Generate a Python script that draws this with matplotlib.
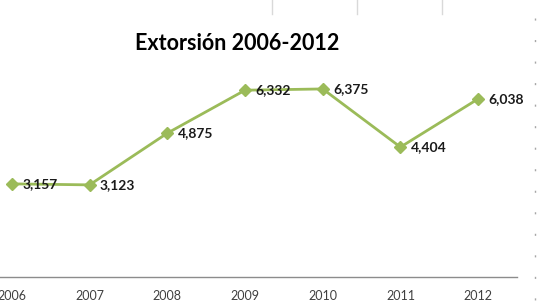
import matplotlib.pyplot as plt
from matplotlib.lines import Line2D

years = ["2006", "2007", "2008", "2009", "2010", "2011", "2012"]
cases = [3157, 3123, 4875, 6332, 6375, 4404, 6038]
labels = ["3,157", "3,123", "4,875", "6,332", "6,375", "4,404", "6,038"]

plt.rcParams['font.family'] = ['Lato', 'DejaVu Sans']

fig = plt.figure(figsize=(5.47, 3.03), dpi=100)
fig.patch.set_facecolor("white")

# plot area runs past the left edge (screenshot is cropped)
ax = fig.add_axes([-27 / 547, 26 / 303, 544 / 547, 236 / 303])
ax.set_facecolor("none")

x = list(range(len(years)))
ax.plot(x, cases, color="#9BBB59", linewidth=2.0, marker="D", markersize=6.5,
        markerfacecolor="#9BBB59", markeredgecolor="#9BBB59", zorder=3)

for xi, yi, lab in zip(x, cases, labels):
    ax.annotate(lab, (xi, yi), xytext=(7.5, 0), textcoords="offset points",
                ha="left", va="center", fontsize=10, fontweight="bold",
                color="#1a1a1a", zorder=4)

ax.set_xlim(-0.5, 6.5)
ax.set_ylim(0, 8000)
ax.set_xticks(x)
ax.set_xticklabels(years, fontsize=9, color="#404040")
ax.set_yticks([])
ax.tick_params(axis="x", length=0, pad=9)

for side in ["top", "right", "left"]:
    ax.spines[side].set_visible(False)
ax.spines["bottom"].set_color("#8c8c8c")
ax.spines["bottom"].set_linewidth(1.0)

fig.text(237 / 547, 1 - 43 / 303, "Extorsión 2006-2012", ha="center", va="center",
         fontsize=15.5, fontweight="bold", color="#000000")

# spreadsheet gridline remnants around the chart
for px in [272, 357, 442]:
    fig.add_artist(Line2D([px / 547, px / 547], [1, 1 - 14 / 303],
                          color="#d9d9d9", linewidth=1.0))
fig.add_artist(Line2D([535 / 547, 535 / 547], [1 - 18 / 303, 0],
                      color="#a6a6a6", linewidth=1.0, linestyle=(0, (1.5, 14))))

fig.savefig("out.png", dpi=100)
